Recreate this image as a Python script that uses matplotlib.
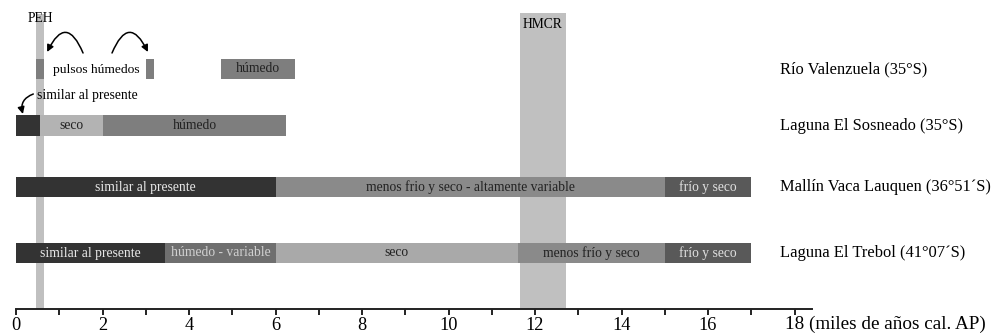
import matplotlib
matplotlib.use("Agg")
import matplotlib.pyplot as plt

plt.rcParams['font.family'] = ['Liberation Serif', 'DejaVu Serif']

# ---- data ----
sites = ["Río Valenzuela (35°S)", "Laguna El Sosneado (35°S)",
         "Mallín Vaca Lauquen (36°51´S)", "Laguna El Trebol (41°07´S)"]

valenzuela_start = [0.47, 3.00, 4.75]
valenzuela_end = [0.65, 3.19, 6.45]
valenzuela_labels = ["", "", "húmedo"]
valenzuela_tone = ["mid", "mid", "mid"]

sosneado_start = [0.0, 0.55, 2.0]
sosneado_end = [0.55, 2.0, 6.25]
sosneado_labels = ["", "seco", "húmedo"]
sosneado_tone = ["dark", "light", "mid"]

vaca_start = [0.0, 6.0, 15.0]
vaca_end = [6.0, 15.0, 17.0]
vaca_labels = ["similar al presente", "menos frio y seco - altamente variable", "frío y seco"]
vaca_tone = ["dark", "mid2", "dark2"]

trebol_start = [0.0, 3.45, 6.0, 11.6, 15.0]
trebol_end = [3.45, 6.0, 11.6, 15.0, 17.0]
trebol_labels = ["similar al presente", "húmedo - variable", "seco", "menos frío y seco", "frío y seco"]
trebol_tone = ["dark", "mid3", "light2", "mid2", "dark2"]

events = ["PEH", "HMCR"]
event_start = [0.47, 11.65]
event_end = [0.65, 12.72]

xticks_major = [0, 2, 4, 6, 8, 10, 12, 14, 16]
xticks_minor = [1, 3, 5, 7, 9, 11, 13, 15, 17]
axis_label = "18 (miles de años cal. AP)"

# ---- styles ----
fill = {"dark": "#333333", "dark2": "#595959", "mid": "#7e7e7e", "mid2": "#8a8a8a",
        "mid3": "#6f6f6f", "light": "#b3b3b3", "light2": "#a9a9a9"}
txtc = {"dark": "#e8e8e8", "dark2": "#e0e0e0", "mid": "#222222", "mid2": "#222222",
        "mid3": "#d0d0d0", "light": "#222222", "light2": "#222222"}
row_y = [69, 125.5, 187, 253]   # vertical layout (pixels from top)
bar_h = 20.5

W, H = 997, 333
fig = plt.figure(figsize=(W / 100, H / 100), dpi=100)
x0_px, axis_px, unit_px = 16, 309, 43.25
xmax = 18.4
ax = fig.add_axes([x0_px / W, (H - axis_px) / H, xmax * unit_px / W, axis_px / H])
ax.set_xlim(0, xmax)
ax.set_ylim(axis_px, 0)

# event bands
band_tops = [14, 13]
for name, s, e, top in zip(events, event_start, event_end, band_tops):
    ax.bar(s, axis_px - top, width=e - s, bottom=top, align='edge',
           color="#c0c0c0", edgecolor='none', zorder=1)
ax.text(0.28, 18, "PEH", fontsize=9.8, ha='left', va='center', zorder=5)
ax.text((event_start[1] + event_end[1]) / 2, 25, "HMCR", fontsize=9.8,
        ha='center', va='center', zorder=5)

rows = [
    (valenzuela_start, valenzuela_end, valenzuela_labels, valenzuela_tone),
    (sosneado_start, sosneado_end, sosneado_labels, sosneado_tone),
    (vaca_start, vaca_end, vaca_labels, vaca_tone),
    (trebol_start, trebol_end, trebol_labels, trebol_tone),
]
for i, (st, en, lb, tn) in enumerate(rows):
    y = row_y[i]
    for j, (s, e, l, t) in enumerate(zip(st, en, lb, tn)):
        ax.barh(y, e - s, left=s, height=bar_h, color=fill[t], edgecolor='none', zorder=3)
        if l:
            ax.text((s + e) / 2, y, l, color=txtc[t], fontsize=9.8, ha='center',
                    va='center', zorder=4)
    ax.text(17.66, y, sites[i], fontsize=11.9, ha='left', va='center', clip_on=False)

# annotations row 1 / row 2
ax.text(0.85, 70, "pulsos húmedos", fontsize=9.7, ha='left', va='center', zorder=4)
ap = dict(arrowstyle='-|>', color='black', lw=1.1, mutation_scale=10,
          shrinkA=0, shrinkB=0)
ax.annotate("", xy=(0.72, 52), xytext=(1.55, 53),
            arrowprops=dict(connectionstyle="arc3,rad=1.1", **ap))
ax.annotate("", xy=(3.05, 52), xytext=(2.22, 53),
            arrowprops=dict(connectionstyle="arc3,rad=-1.1", **ap))
ax.text(0.48, 95, "similar al presente", fontsize=9.8, ha='left', va='center', zorder=4)
ax.annotate("", xy=(0.16, 114), xytext=(0.40, 94),
            arrowprops=dict(connectionstyle="arc3,rad=0.45", **ap))

# axis styling
for sp in ['top', 'right', 'left']:
    ax.spines[sp].set_visible(False)
ax.spines['bottom'].set_linewidth(1.4)
ax.spines['bottom'].set_color('#222222')
ax.set_yticks([])
ax.set_xticks(xticks_major)
ax.set_xticklabels([str(v) for v in xticks_major], fontsize=13.2)
ax.set_xticks(xticks_minor + [18], minor=True)
ax.tick_params(axis='x', which='both', direction='out', length=4.5, width=1.4,
               color='#222222', pad=1.5)
ax.annotate(axis_label, xy=(18, 0), xycoords=('data', 'axes fraction'),
            xytext=(-7, -4.8), textcoords='offset points', ha='left', va='top',
            fontsize=13.8, annotation_clip=False)

fig.savefig("out.png", dpi=100)
